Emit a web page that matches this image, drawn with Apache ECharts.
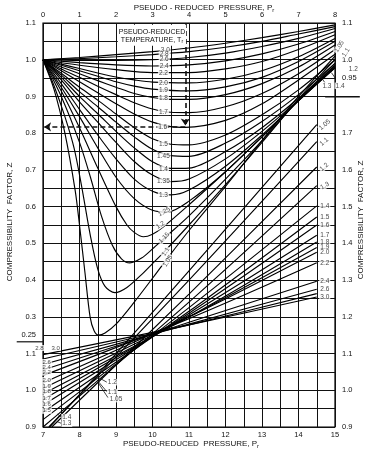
<!DOCTYPE html>
<html><head><meta charset="utf-8">
<script src="https://cdn.jsdelivr.net/npm/echarts/dist/echarts.min.js"></script>
<style>html,body{margin:0;padding:0;background:#fff}#c{width:372px;height:452px}</style>
</head><body><div id="c"></div>
<script>
// ---------- upper chart: Pr 0-8 (top axis), Z 0-1.1 (left axis) ----------
const upperTrNames = ['1.05','1.1','1.15','1.2','1.25','1.3','1.35','1.4','1.45','1.5','1.6','1.7','1.8','1.9','2.0','2.2','2.4','2.6','2.8','3.0'];
const upperTr105 = [[0,1],[0.3,0.92],[0.6,0.8],[0.88,0.645],[1.0,0.55],[1.15,0.42],[1.29,0.3],[1.4,0.262],[1.52,0.25],[1.7,0.256],[2,0.28],[2.5,0.34],[3,0.405],[3.3,0.445],[4,0.535],[5,0.655],[6,0.78],[7,0.9],[8,1.01]];
const upperTr110 = [[0,1],[0.3,0.93],[0.6,0.845],[0.85,0.76],[1.05,0.66],[1.3,0.52],[1.5,0.43],[1.7,0.383],[1.97,0.366],[2.3,0.38],[2.7,0.415],[3,0.445],[3.3,0.475],[4,0.55],[5,0.66],[6,0.775],[7,0.893],[8,1.0]];
const upperTr115 = [[0,1],[0.5,0.9],[1,0.775],[1.3,0.68],[1.6,0.575],[1.9,0.495],[2.15,0.458],[2.38,0.447],[2.7,0.46],[3,0.485],[3.3,0.512],[4,0.575],[5,0.675],[6,0.78],[7,0.89],[8,0.99]];
const upperTr120 = [[0,1],[0.5,0.915],[1,0.815],[1.5,0.705],[2,0.6],[2.3,0.55],[2.5,0.53],[2.75,0.518],[3,0.525],[3.3,0.545],[4,0.605],[5,0.695],[6,0.79],[7,0.89],[8,0.985]];
const upperTr125 = [[0,1],[0.5,0.925],[1,0.845],[1.5,0.76],[2,0.68],[2.5,0.622],[3,0.59],[3.4,0.585],[4,0.615],[5,0.695],[6,0.79],[7,0.888],[8,0.98]];
const upperTr130 = [[0,1],[0.5,0.935],[1,0.865],[1.5,0.795],[2,0.73],[2.5,0.675],[3,0.642],[3.5,0.632],[4,0.645],[5,0.71],[6,0.795],[7,0.888],[8,0.978]];
const upperTr135 = [[0,1],[0.5,0.945],[1,0.885],[1.5,0.83],[2,0.775],[2.5,0.723],[3,0.686],[3.5,0.668],[4,0.675],[5,0.73],[6,0.805],[7,0.89],[8,0.978]];
const upperTr140 = [[0,1],[0.5,0.952],[1,0.9],[1.5,0.853],[2,0.805],[2.5,0.76],[3,0.722],[3.5,0.704],[4,0.705],[5,0.75],[6,0.815],[7,0.895],[8,0.982]];
const upperTr145 = [[0,1],[0.5,0.958],[1,0.913],[1.5,0.872],[2,0.83],[2.5,0.79],[3,0.756],[3.5,0.739],[4,0.737],[5,0.773],[6,0.832],[7,0.905],[8,0.99]];
const upperTr150 = [[0,1],[0.5,0.963],[1,0.925],[1.5,0.89],[2,0.852],[2.5,0.815],[3,0.785],[3.5,0.77],[4,0.768],[5,0.795],[6,0.85],[7,0.918],[8,1.0]];
const upperTr160 = [[0,1],[0.5,0.97],[1,0.94],[1.5,0.91],[2,0.88],[2.5,0.852],[3,0.83],[3.5,0.818],[3.9,0.816],[5,0.835],[6,0.88],[7,0.945],[8,1.015]];
const upperTr170 = [[0,1],[0.5,0.975],[1,0.952],[1.5,0.928],[2,0.905],[2.5,0.883],[3,0.866],[3.5,0.857],[4,0.856],[5,0.872],[6,0.908],[7,0.962],[8,1.028]];
const upperTr180 = [[0,1],[0.5,0.98],[1,0.962],[1.5,0.943],[2,0.925],[2.5,0.908],[3,0.897],[3.5,0.892],[4,0.892],[5,0.905],[6,0.935],[7,0.98],[8,1.04]];
const upperTr190 = [[0,1],[0.5,0.985],[1,0.97],[1.5,0.955],[2,0.94],[2.5,0.928],[3,0.92],[4,0.915],[5,0.926],[6,0.952],[7,0.995],[8,1.05]];
const upperTr200 = [[0,1],[0.5,0.988],[1,0.976],[1.5,0.964],[2,0.953],[2.5,0.945],[3,0.939],[4,0.937],[5,0.947],[6,0.97],[7,1.008],[8,1.058]];
const upperTr220 = [[0,1],[1,0.985],[2,0.973],[3,0.965],[4,0.965],[5,0.975],[6,0.995],[7,1.028],[8,1.068]];
const upperTr240 = [[0,1],[1,0.992],[2,0.986],[3,0.983],[4,0.986],[5,0.997],[6,1.016],[7,1.043],[8,1.077]];
const upperTr260 = [[0,1],[1,0.998],[2,0.998],[3,1.0],[4,1.006],[5,1.018],[6,1.036],[7,1.058],[8,1.085]];
const upperTr280 = [[0,1],[1,1.003],[2,1.008],[3,1.014],[4,1.022],[5,1.034],[6,1.05],[7,1.07],[8,1.09]];
const upperTr300 = [[0,1],[1,1.006],[2,1.014],[3,1.022],[4,1.032],[5,1.045],[6,1.06],[7,1.077],[8,1.095]];

// ---------- lower chart: Pr 7-15 (bottom axis), Z 0.9-2.0 (right axis) ----------
const lowerTrNames = ['1.05','1.1','1.2','1.3','1.4','1.5','1.6','1.7','1.8','1.9','2.0','2.2','2.4','2.6','2.8','3.0'];
const lowerTr105 = [[7.18,0.9],[8.45,1.038],[11,1.325],[14.5,1.723]];
const lowerTr110 = [[7.16,0.9],[11,1.3],[14.5,1.677]];
const lowerTr120 = [[7.24,0.9],[11,1.262],[14.5,1.608]];
const lowerTr130 = [[7,0.9],[11,1.24],[14.5,1.557]];
const lowerTr140 = [[7,0.92],[11,1.225],[14.5,1.502]];
const lowerTr150 = [[7,0.94],[11,1.215],[14.5,1.472]];
const lowerTr160 = [[7,0.96],[11,1.21],[14.5,1.45]];
const lowerTr170 = [[7,0.975],[11,1.205],[14.5,1.422]];
const lowerTr180 = [[7,0.99],[11,1.2],[14.5,1.404]];
const lowerTr190 = [[7,1.005],[11,1.2],[14.5,1.389]];
const lowerTr200 = [[7,1.02],[11,1.2],[14.5,1.376]];
const lowerTr220 = [[7,1.04],[11,1.195],[14.5,1.347]];
const lowerTr240 = [[7,1.055],[11,1.185],[14.5,1.297]];
const lowerTr260 = [[7,1.07],[11,1.18],[14.5,1.275]];
const lowerTr280 = [[7,1.085],[11,1.178],[14.5,1.263]];
const lowerTr300 = [[7,1.097],[11,1.178],[14.5,1.254]];

// ---------- curve labels ----------
const upperLabelText = ['3.0','2.8','2.6','2.4','2.2','2.0','1.9','1.8','1.7','1.6','1.5','1.45','1.4','1.35','1.3','1.25','1.2','1.15','1.1','1.05'];
const upperLabelPr   = [3.35,3.32,3.32,3.32,3.3,3.3,3.3,3.3,3.3,3.28,3.3,3.3,3.3,3.3,3.3,3.32,3.22,3.32,3.36,3.42];
const upperLabelZ    = [1.025,1.014,1.001,0.983,0.964,0.937,0.916,0.894,0.858,0.817,0.771,0.738,0.703,0.668,0.632,0.586,0.55,0.515,0.477,0.452];
const upperLabelRot  = [0,0,0,0,0,0,0,0,0,0,0,0,0,0,0,30,35,45,58,58];

const cornerLabelText = ['1.05','1.1','1.2','1.3','1.4'];
const cornerLabelPr   = [8.12,8.3,8.5,7.78,8.14];
const cornerLabelZ    = [1.036,1.02,0.973,0.929,0.929];
const cornerLabelRot  = [58,58,0,0,0];

const lowerLeftText = ['2.8','3.0','2.6','2.4','2.2','2.0','1.9','1.8','1.7','1.6','1.5'];
const lowerLeftPr   = [6.9,7.35,7.1,7.1,7.1,7.1,7.1,7.1,7.1,7.1,7.1];
const lowerLeftZ    = [1.115,1.115,1.077,1.063,1.048,1.028,1.012,0.996,0.979,0.962,0.944];

const lowerMidText = ['1.2','1.1','1.05','1.4','1.3'];
const lowerMidPr   = [8.9,8.9,9.0,7.65,7.65];
const lowerMidZ    = [1.022,0.995,0.976,0.927,0.909];

const lowerRightText = ['1.05','1.1','1.2','1.3','1.4','1.5','1.6','1.7','1.8','1.9','2.0','2.2','2.4','2.6','3.0'];
const lowerRightPr   = [14.72,14.7,14.7,14.72,14.72,14.72,14.72,14.72,14.72,14.72,14.72,14.72,14.72,14.72,14.72];
const lowerRightZ    = [1.723,1.677,1.608,1.557,1.502,1.472,1.45,1.422,1.404,1.389,1.376,1.347,1.297,1.275,1.254];
const lowerRightRot  = [40,40,40,30,0,0,0,0,0,0,0,0,0,0,0];

// leader lines (Pr, Z pairs)
const upperLeaders = [[[7.98,0.985],[8.3,0.975]],[[7.6,0.955],[7.72,0.938]],[[7.9,0.965],[8.08,0.94]]];
const lowerLeaders = [[[8.48,1.037],[8.75,1.022]],[[8.48,1.028],[8.75,0.996]],[[8.5,1.022],[8.78,0.98]],[[7.4,0.935],[7.5,0.927]],[[7.38,0.915],[7.5,0.91]]];

// example arrow (Pr 3.9 -> Z 0.817)
const examplePr = 3.9;
const exampleZ = 0.817;
// scale-break marks
const breakLeftPr = [-0.72, 0];  const breakLeftZ = 0.232;
const breakRightPr = [7.73, 8.68]; const breakRightZ = 0.899;

const upperCurves = [upperTr105,upperTr110,upperTr115,upperTr120,upperTr125,upperTr130,upperTr135,upperTr140,upperTr145,upperTr150,upperTr160,upperTr170,upperTr180,upperTr190,upperTr200,upperTr220,upperTr240,upperTr260,upperTr280,upperTr300];
const lowerCurves = [lowerTr105,lowerTr110,lowerTr120,lowerTr130,lowerTr140,lowerTr150,lowerTr160,lowerTr170,lowerTr180,lowerTr190,lowerTr200,lowerTr220,lowerTr240,lowerTr260,lowerTr280,lowerTr300];

const FONT = '"Liberation Sans", Arial, sans-serif';
const INK = '#111';

const chart = echarts.init(document.getElementById('c'));

function zLabel(keep) {
  return function (v) {
    const r = Math.round(v * 100);
    if (!keep(r)) return '';
    return r % 10 === 0 ? (r / 100).toFixed(1) : (r / 100).toFixed(2);
  };
}
const intLabel = v => Math.abs(v - Math.round(v)) < 1e-6 ? String(Math.round(v)) : '';
const lbl = {fontSize: 7.5, fontFamily: FONT, color: INK};

function curveSeries(curves, names, xi, yi) {
  return curves.map((d, i) => ({
    type: 'line', name: 'Tr ' + names[i], xAxisIndex: xi, yAxisIndex: yi, data: d,
    smooth: 0.3, symbol: 'none', silent: true, z: 3,
    lineStyle: {color: '#000', width: 1.15}
  }));
}
function labelSeries(xi, yi, texts, prs, zs, rots, fs) {
  return {
    type: 'scatter', xAxisIndex: xi, yAxisIndex: yi, symbolSize: 1, clip: false, silent: true, z: 6,
    itemStyle: {color: 'rgba(0,0,0,0)'},
    label: {show: true, position: 'inside', fontSize: fs, fontFamily: FONT, color: INK,
            backgroundColor: '#fff', padding: [0, 1], lineHeight: fs},
    data: texts.map((t, i) => ({value: [prs[i], zs[i]], label: {formatter: t, rotate: rots ? rots[i] : 0}}))
  };
}
function leaderSeries(xi, yi, segs) {
  return {type: 'lines', coordinateSystem: 'cartesian2d', xAxisIndex: xi, yAxisIndex: yi, silent: true, z: 5,
          lineStyle: {color: INK, width: 0.8, opacity: 1}, data: segs.map(s => ({coords: s}))};
}

const option = {
  animation: false,
  backgroundColor: '#fff',
  grid: {left: 43, right: 37, top: 23, bottom: 25, show: true, borderColor: '#000', borderWidth: 1.2},
  xAxis: [
    {type: 'value', position: 'top', min: 0, max: 8, interval: 0.5,
     axisLine: {show: false}, axisTick: {show: false},
     axisLabel: Object.assign({formatter: intLabel, margin: 4}, lbl),
     splitLine: {show: true, lineStyle: {color: '#111', width: 1}}},
    {type: 'value', position: 'bottom', min: 7, max: 15, interval: 0.5,
     axisLine: {show: false}, axisTick: {show: false},
     axisLabel: Object.assign({formatter: intLabel, margin: 4}, lbl),
     splitLine: {show: false}}
  ],
  yAxis: [
    {type: 'value', position: 'left', min: 0, max: 1.1, interval: 0.05,
     axisLine: {show: false}, axisTick: {show: false},
     axisLabel: Object.assign({formatter: zLabel(r => r === 25 || (r >= 30 && r % 10 === 0)), margin: 7}, lbl),
     splitLine: {show: true, lineStyle: {color: '#111', width: 1}}},
    {type: 'value', position: 'right', min: 0.9, max: 2.0, interval: 0.05,
     axisLine: {show: false}, axisTick: {show: false},
     axisLabel: Object.assign({formatter: zLabel(r => r >= 90 && r <= 170 && r % 10 === 0), margin: 7}, lbl),
     splitLine: {show: false}},
    {type: 'value', position: 'left', min: 0.9, max: 2.0, interval: 0.05,
     axisLine: {show: false}, axisTick: {show: false},
     axisLabel: Object.assign({formatter: zLabel(r => r === 90 || r === 100 || r === 110), margin: 7}, lbl),
     splitLine: {show: false}},
    {type: 'value', position: 'right', min: 0, max: 1.1, interval: 0.05,
     axisLine: {show: false}, axisTick: {show: false},
     axisLabel: Object.assign({formatter: zLabel(r => r === 95 || r === 100 || r === 110), margin: 7}, lbl),
     splitLine: {show: false}}
  ],
  series: [].concat(
    curveSeries(upperCurves, upperTrNames, 0, 0),
    curveSeries(lowerCurves, lowerTrNames, 1, 1),
    [
      {type: 'lines', coordinateSystem: 'cartesian2d', xAxisIndex: 0, yAxisIndex: 0, silent: true, z: 4,
       symbol: ['none', 'arrow'], symbolSize: 7,
       lineStyle: {color: INK, width: 1.6, type: [5, 3], opacity: 1},
       data: [{coords: [[examplePr, 1.1], [examplePr, exampleZ + 0.004]]},
              {coords: [[examplePr, exampleZ], [0.03, exampleZ]]}]},
      leaderSeries(0, 0, upperLeaders),
      leaderSeries(1, 1, lowerLeaders),
      labelSeries(0, 0, upperLabelText, upperLabelPr, upperLabelZ, upperLabelRot, 6.5),
      labelSeries(0, 0, cornerLabelText, cornerLabelPr, cornerLabelZ, cornerLabelRot, 6.5),
      labelSeries(1, 1, lowerLeftText, lowerLeftPr, lowerLeftZ, null, 6),
      labelSeries(1, 1, lowerMidText, lowerMidPr, lowerMidZ, null, 6.5),
      labelSeries(1, 1, lowerRightText, lowerRightPr, lowerRightZ, lowerRightRot, 6.5)
    ]
  )
};
chart.setOption(option);

const px = (x, y) => chart.convertToPixel({xAxisIndex: 0, yAxisIndex: 0}, [x, y]);
const bl0 = px(breakLeftPr[0], breakLeftZ), bl1 = px(breakLeftPr[1], breakLeftZ);
const br0 = px(breakRightPr[0], breakRightZ), br1 = px(breakRightPr[1], breakRightZ);
const boxA = px(2.05, 1.095), boxB = px(3.92, 1.038);
const sub7 = {a: {fontSize: 7, fontFamily: FONT, fill: INK}, s: {fontSize: 5, fontFamily: FONT, fill: INK, padding: [4, 0, 0, 0]}};
const sub8 = {a: {fontSize: 8, fontFamily: FONT, fill: INK}, s: {fontSize: 6, fontFamily: FONT, fill: INK, padding: [4, 0, 0, 0]}};
const sideStyle = {fontSize: 8, fontFamily: FONT, fill: INK};

chart.setOption({
  graphic: [
    {type: 'line', z: 50, shape: {x1: bl0[0], y1: bl0[1], x2: bl1[0], y2: bl1[1]}, style: {stroke: INK, lineWidth: 1.2}},
    {type: 'line', z: 50, shape: {x1: br0[0], y1: br0[1], x2: br1[0], y2: br1[1]}, style: {stroke: INK, lineWidth: 1.6}},
    {type: 'rect', z: 50, shape: {x: boxA[0], y: boxA[1], width: boxB[0] - boxA[0], height: boxB[1] - boxA[1]}, style: {fill: '#fff'}},
    {type: 'text', z: 51, x: (boxA[0] + boxB[0]) / 2, y: boxA[1] + 3,
     style: {text: '{a|PSEUDO-REDUCED}\n{a|TEMPERATURE, T}{s|r}', rich: sub7, align: 'center', verticalAlign: 'top', lineHeight: 8}},
    {type: 'text', z: 51, x: 204, y: 8,
     style: {text: '{a|PSEUDO - REDUCED  PRESSURE, P}{s|r}', rich: sub8, align: 'center', verticalAlign: 'middle'}},
    {type: 'text', z: 51, x: 191, y: 444,
     style: {text: '{a|PSEUDO-REDUCED  PRESSURE, P}{s|r}', rich: sub8, align: 'center', verticalAlign: 'middle'}},
    {type: 'text', z: 51, x: 10, y: 222, rotation: Math.PI / 2,
     style: Object.assign({text: 'COMPRESSIBILITY  FACTOR, Z', align: 'center', verticalAlign: 'middle'}, sideStyle)},
    {type: 'text', z: 51, x: 361, y: 220, rotation: Math.PI / 2,
     style: Object.assign({text: 'COMPRESSIBILITY  FACTOR, Z', align: 'center', verticalAlign: 'middle'}, sideStyle)}
  ]
});
</script></body></html>
